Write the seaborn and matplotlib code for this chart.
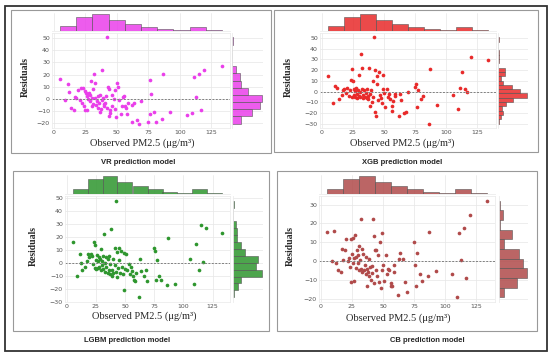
"""
Residual plots (observed PM2.5 vs residuals) for four prediction models.
"""

import matplotlib.pyplot as plt
import numpy as np
import seaborn as sns
from matplotlib.patches import Rectangle
from matplotlib.ticker import MultipleLocator

# observed PM2.5 values of the test set (shared by all four models)
observed = [
    5, 9, 11, 12, 13.5, 16, 17, 18, 19.5, 20.5, 21.5, 22.5, 23.5, 24, 24.5,
    25, 25.5, 26, 26.5, 27, 27.5, 28, 28.5, 29, 29.5, 30, 30.5, 31, 31.5, 32,
    32.5, 33, 33.5, 34, 35, 35.5, 36, 36.5, 37, 37.5, 38, 38.5, 39, 39.5, 40,
    41, 41.5, 42, 42.5, 43, 43.5, 44, 44.5, 45, 46, 46.5, 47.5, 48.5, 49, 49.5,
    50, 51, 52, 53, 54, 55, 56, 56.5, 57.5, 58.5, 59,
    62, 62.5, 63.5, 66, 68, 69, 74.5, 76, 76.5, 77.5, 79.5, 81, 86, 87, 92.5,
    105.5, 109.5, 111, 113, 115, 117, 119.5, 133.5,
]

vr_residuals = [
    16.3, -0.5, 12.5, 6, -7, -8.7, 1.5, 0.8, 7.6, -1, 9, -3.3, 9.3, -5.4, 6.3,
    -8.7, 4.9, 2.7, -9, 0, 4, 5, -1.9, 3.5, 14.4, -6, 0.8, -3.8, 8, 20.7,
    13, 1, -5, -1.9, -7.4, 2.2, -3, -10.6, 3, -8, -0.5, 23.4, 1, -5.4, -4,
    -3.3, 2.2, 50.4, -7, 9.8, 8.2, -14.2, -11.4, -9, -5.4, 3, 0, -8.2, 7, -15,
    13, 9.8, -1, -12, -6, 1.6, 2.7, -5.4, -7.4, -12.3, -3,
    -18.8, -5, -3, -17, -20.2, -1.9, -18.8, 15.3, -12.3, 4, -10.9, -19, -16,
    20.7, -10.9, -13, -11.4, 18, 1.4, 20.7, -8.7, 24, 26.7,
]

xgb_residuals = [
    14.3, -10.4, 5.4, 3.3, -6.7, -3, 1, 2.5, -1, 3, -4, 1, 10.5, 21.4, -5,
    9.5, -3, 2, -5.5, 0.5, 3, -2, -6, 1.5, 15.8, -4, 0, -5, 35, 22,
    2, -3, -6, 1, -5, -1.5, -6, 2, -4, -7, 22, -13.2, -2, 1, -10,
    -5, 9.6, 50.6, 20.4, -18.8, -23, 14.9, 7.4, -8, 18, -3, -6, -10.7, 15.8, 2.4,
    -1, -14.7, 2.4, -5, -2, -7, -13.3, -18.4, -9, -4, -2,
    -22.5, -2, -7.5, -20, -19.4, -0.8, 4.5, 7, -14, 1, -7, -4, -30, 21.4,
    -12.3, -3.5, -16.2, 3.6, 18, 2.6, -0.4, 32, 29.7,
]

lgbm_residuals = [
    16.2, -10, 6.6, -0.6, -5.8, -3, 1, 7, 4, 6.5, 5, -1, 16.2, 13.4, -4,
    2, -5, 5.5, -4.5, 1.5, 4, -3, 3, -6, 10.8, 1, -2, 5, -5, 22,
    0, -7, 4.5, -3, -8, 2.5, -5.5, 5, -9, -1, 25.8, -6, -10.5, 3, -8,
    -2, 11, 47.6, -7, 8.2, -11, -4, 2, 11, -8, 9, -3, -9, 7.1, -20.9,
    -5, 6.4, -5.8, -1, -9, -3, -6.6, -10.5, -13, -14.4, -8,
    -26.6, 3, -6.6, -10.5, -5.3, -14.4, 11.6, 9, -13, 2, -10.5, -13, -17,
    18.8, -16.2, 3, -16.8, 14.2, -5.8, 29, 0.4, 26.4, 22.7,
]

cb_residuals = [
    15.2, 0, 15.8, -1, -4.9, -6, 6.6, 0.5, 5.9, 11.6, 0, 1.5, -3, 11.6, -11.3,
    4, -1, 12, 1.5, -10.8, 13.8, -3.5, 2, 6, -1, 3, -5, 8, 0.5, 22.5,
    -4, 6.2, -6, 3.6, -5, -2, -7, 2, -13.5, -4, -6, 1, -8, -3, -10,
    -2.5, -6.5, 22.1, 13.4, -11.7, 5.9, -5, 5.9, -8, 3, -11, 10.2, -14.4, -5, 14.9,
    -2, -10.8, 3, -7, -4.1, -4.5, -13.5, -11.7, -13.5, -6, -2,
    -18, 1.2, 4.1, 0.9, -11.3, -16.7, 10.2, -2, -13.5, 4.1, -6.7, -10.8, -7.7,
    15.6, -5.4, -6.7, -19.2, 14.9, 0.5, 17.7, -9.2, 24.3, 32,
]

model_names = ["VR", "XGB", "LGBM", "CB"]

W, H = 550, 358
SERIF = ["Liberation Serif", "DejaVu Serif"]
SANS = ["Liberation Sans", "DejaVu Sans"]


def px(l, t, r, b):
    # pixel box (from top-left) -> figure fraction rect
    return [l / W, 1 - b / H, (r - l) / W, (b - t) / H]


def draw_panel(fig, obs, res, color, layout):
    main = fig.add_axes(px(*layout["main"]))
    top = fig.add_axes(px(*layout["top"]))
    right = fig.add_axes(px(*layout["right"]))

    sns.scatterplot(x=obs, y=res, ax=main, color=color, s=7, linewidth=0)
    main.axhline(0, color="#808080", ls=(0, (2, 1.5)), lw=0.7)
    main.xaxis.set_major_locator(MultipleLocator(25))
    main.yaxis.set_major_locator(MultipleLocator(10))
    main.tick_params(labelsize=4.5, colors="#555555", length=0, pad=1.5)
    main.set_xlabel("")
    main.set_ylabel("")

    hist_kw = dict(color=color, alpha=0.85, edgecolor="#555555", linewidth=0.4)
    sns.histplot(x=obs, ax=top, **hist_kw)
    sns.histplot(y=res, ax=right, **hist_kw)
    top.set_xlim(main.get_xlim())
    right.set_ylim(main.get_ylim())
    top.xaxis.set_major_locator(MultipleLocator(25))
    right.yaxis.set_major_locator(MultipleLocator(10))
    for ax in (top, right):
        ax.set_xlabel("")
        ax.set_ylabel("")
        ax.tick_params(length=0, labelbottom=False, labelleft=False)
    top.set_yticks([])
    right.set_xticks([])
    sns.despine(ax=top, left=True)
    sns.despine(ax=right, bottom=True)

    for ax in (main, top, right):
        ax.grid(color="#e6e6e6", lw=0.5)
        for s in ax.spines.values():
            s.set_color("#ececec")
            s.set_linewidth(0.6)

    fig.text(*layout["xlabel"], "Observed PM2.5 (μg/m³)", family=SERIF,
             fontsize=7.5, ha="center", va="center")
    fig.text(*layout["ylabel"], "Residuals", family=SERIF, fontsize=7,
             fontweight="bold", rotation=90, ha="center", va="center")


def main() -> None:
    sns.set_theme(style="whitegrid")
    plt.rcParams["font.family"] = ["DejaVu Sans"]

    fig = plt.figure(figsize=(W / 100, H / 100), dpi=100)
    fig.patch.set_facecolor("white")

    colors = ["#ea3fea", "#e82a2a", "#2e962e", "#b04a4a"]
    residuals = [vr_residuals, xgb_residuals, lgbm_residuals, cb_residuals]
    layouts = [
        dict(box=(11, 10, 271, 153), main=(52, 33, 230, 128), top=(52, 13, 230, 31),
             right=(232, 33, 263, 128), xlabel=(142 / W, 1 - 143 / H),
             ylabel=(25 / W, 1 - 77 / H), caption=(138 / W, 1 - 162 / H)),
        dict(box=(274, 10, 538, 152), main=(320, 33, 496, 128), top=(320, 13, 496, 31),
             right=(498, 33, 528, 128), xlabel=(402 / W, 1 - 143 / H),
             ylabel=(288 / W, 1 - 77 / H), caption=(402 / W, 1 - 162 / H)),
        dict(box=(13, 171, 269, 331), main=(65, 196, 230, 302), top=(65, 175, 230, 194),
             right=(233, 196, 263, 302), xlabel=(144 / W, 1 - 316 / H),
             ylabel=(33 / W, 1 - 246 / H), caption=(127 / W, 1 - 341 / H)),
        dict(box=(277, 171, 537, 331), main=(319, 196, 495, 302), top=(319, 175, 495, 194),
             right=(499, 196, 528, 302), xlabel=(398 / W, 1 - 318 / H),
             ylabel=(290 / W, 1 - 246 / H), caption=(427 / W, 1 - 341 / H)),
    ]

    # outer frame and panel frames
    l, t, r, b = 5, 6, 547, 351
    fig.add_artist(Rectangle((l / W, 1 - b / H), (r - l) / W, (b - t) / H,
                             transform=fig.transFigure, fill=False,
                             edgecolor="#333333", lw=1.3))
    for lay in layouts:
        l, t, r, b = lay["box"]
        fig.add_artist(Rectangle((l / W, 1 - b / H), (r - l) / W, (b - t) / H,
                                 transform=fig.transFigure, fill=False,
                                 edgecolor="#999999", lw=0.8))

    obs = np.array(observed)
    for name, res, color, lay in zip(model_names, residuals, colors, layouts):
        draw_panel(fig, obs, np.array(res), color, lay)
        fig.text(*lay["caption"], f"{name} prediction model", family=SANS,
                 fontsize=5.5, fontweight="bold", ha="center", va="center")

    fig.savefig("out.png", dpi=100)
    plt.close(fig)


if __name__ == "__main__":
    main()
